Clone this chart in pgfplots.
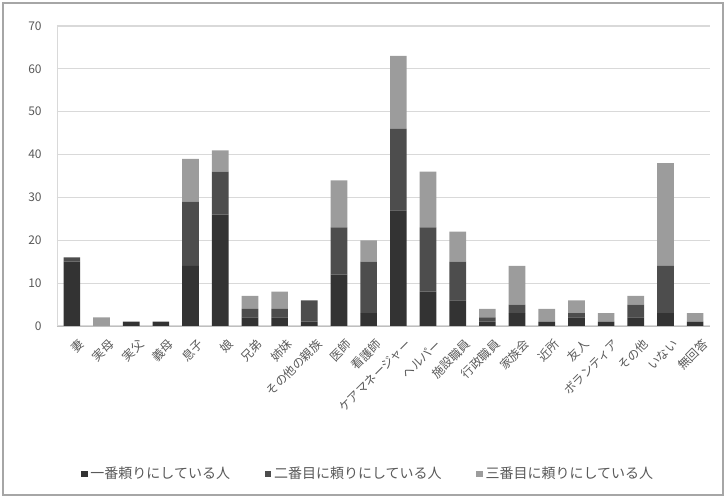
\documentclass[border=0pt]{standalone}
\usepackage{pgfplots}
\pgfplotsset{compat=1.18}
\usepackage{pgfplotstable}
\usepackage{fontspec}
\setmainfont{Noto Sans CJK JP}
\definecolor{sA}{HTML}{333333}
\definecolor{sB}{HTML}{4D4D4D}
\definecolor{sC}{HTML}{9C9C9C}
\definecolor{txt}{HTML}{595959}
\pgfplotstableread{
x s1 s2 s3
0 15 1 0
1 0 0 2
2 1 0 0
3 1 0 0
4 14 15 10
5 26 10 5
6 2 2 3
7 2 2 4
8 1 5 0
9 12 11 11
10 3 12 5
11 27 19 17
12 8 15 13
13 6 9 7
14 1 1 2
15 3 2 9
16 1 0 3
17 2 1 3
18 1 0 2
19 2 3 2
20 3 11 24
21 1 0 2
}\data
\begin{document}
\begin{tikzpicture}
\useasboundingbox (0pt,0pt) rectangle (544.5pt,373.5pt);
\draw[gray!70, line width=0.8pt] (2.25pt,2.25pt) rectangle (542.25pt,371.25pt);
\begin{axis}[
  at={(42.75pt,129pt)}, anchor=south west,
  scale only axis, width=489.75pt, height=225pt,
  ybar stacked, bar width=12.5pt,
  xmin=-0.5, xmax=21.5, ymin=0, ymax=70,
  ytick={0,10,...,70},
  xtick=data,
  xticklabels={妻,実母,実父,義母,息子,娘,兄弟,姉妹,その他の親族,医師,看護師,ケアマネージャー,ヘルパー,施設職員,行政職員,家族会,近所,友人,ボランティア,その他,いない,無回答},
  x tick label style={rotate=45, anchor=east, font=\fontsize{9}{10}\selectfont, text=txt, inner sep=1pt, yshift=-14pt, xshift=-2pt},
  y tick label style={font=\fontsize{9}{10}\selectfont, text=txt, xshift=-8pt},
  /pgf/number format/assume math mode=true,
  major tick length=0pt,
  axis x line*=bottom, axis y line*=left,
  x axis line style={draw=gray!50, -},
  y axis line style={draw=gray!30, -},
  ymajorgrids, grid style={draw=gray!30, line width=0.8pt},
  legend columns=3,
  legend style={at={(0.477,-0.493)}, anchor=center, draw=none, fill=none,
    font=\fontsize{10.5}{12}\selectfont, text=txt,
    /tikz/every even column/.append style={column sep=24pt}},
  legend image code/.code={\fill[#1] (0pt,-2.5pt) rectangle (5pt,2.5pt);},
]
\addplot[fill=sA, draw=none] table[x=x,y=s1] {\data};
\addplot[fill=sB, draw=none] table[x=x,y=s2] {\data};
\addplot[fill=sC, draw=none] table[x=x,y=s3] {\data};
\legend{一番頼りにしている人,二番目に頼りにしている人,三番目に頼りにしている人}
\end{axis}
\end{tikzpicture}
\end{document}
